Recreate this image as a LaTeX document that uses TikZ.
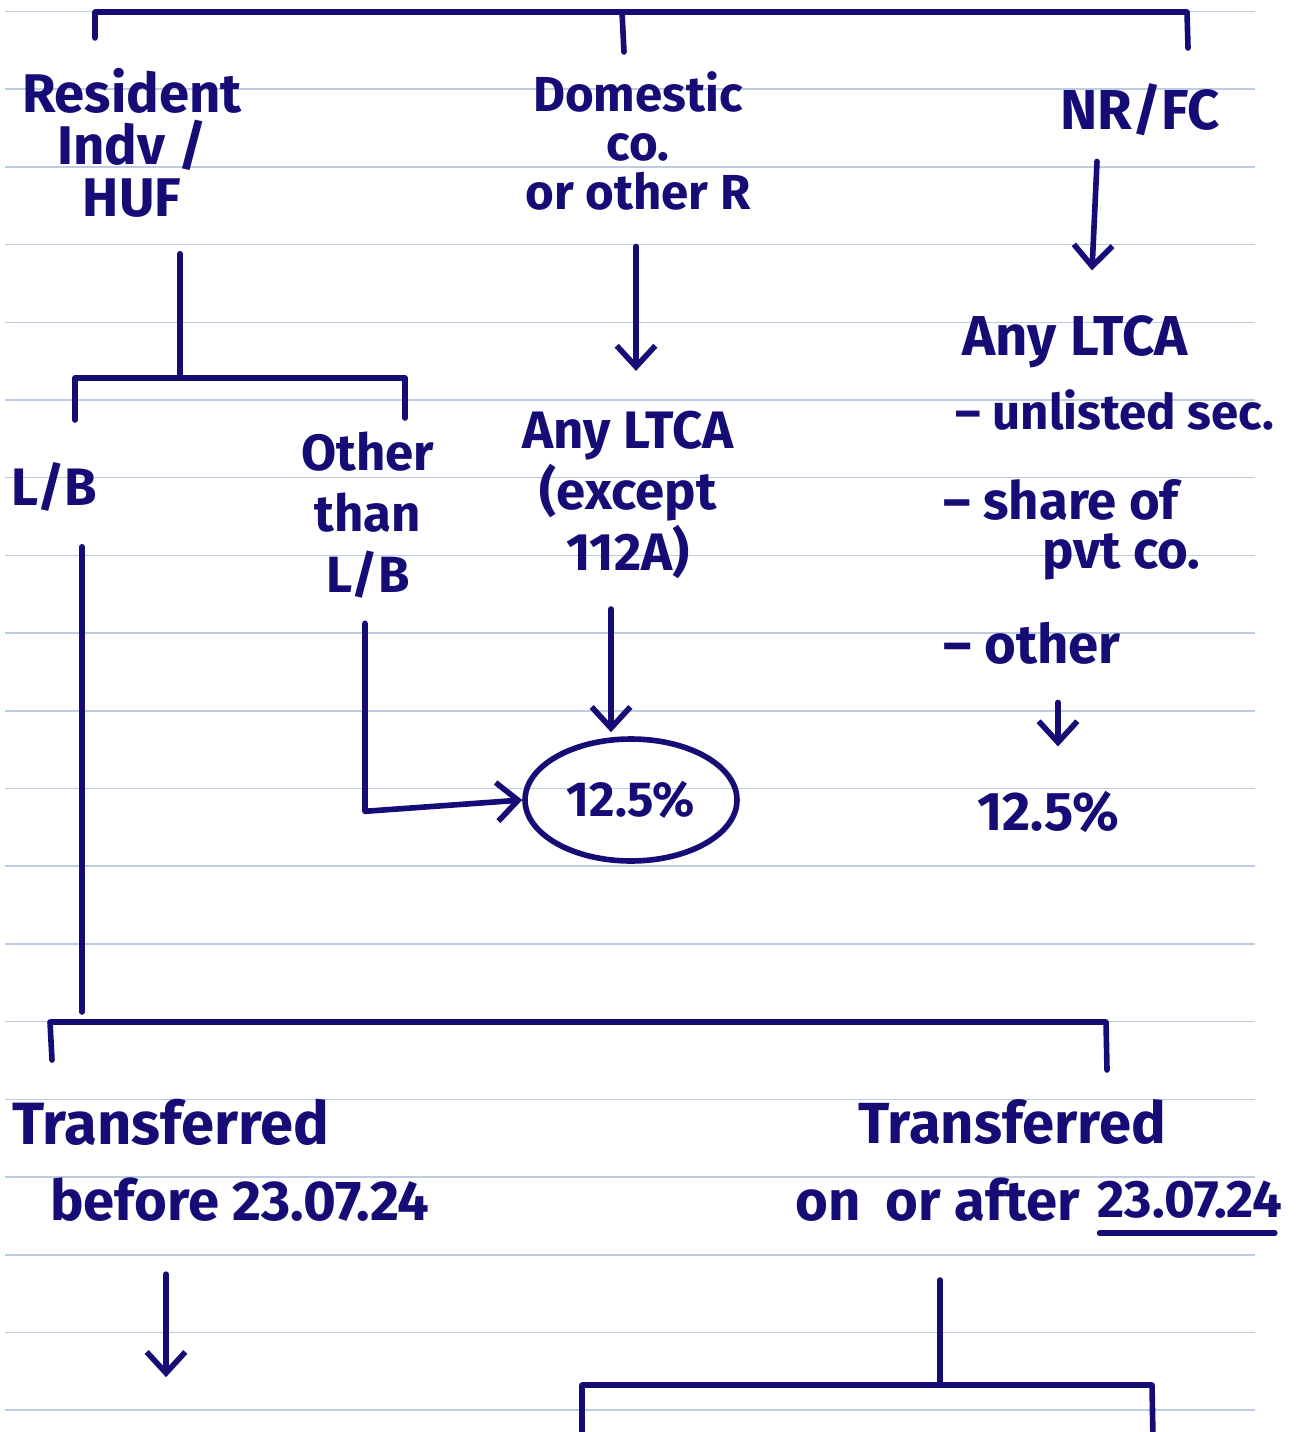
\documentclass[tikz,border=0pt]{standalone}
\usepackage{fontspec}
\setmainfont{Fira Sans}
\usetikzlibrary{arrows.meta,shapes.geometric,positioning,calc}
\definecolor{ink}{RGB}{22,12,118}
\definecolor{ruling}{RGB}{190,204,226}
\tikzset{
  note/.style={text=ink, font=\bfseries\fontsize{28}{30}\selectfont, inner sep=0pt, align=center},
  pen/.style={draw=ink, line width=3.2pt, line cap=round, line join=round},
}

\begin{document}
\begin{tikzpicture}[x=0.02cm, y=-0.02cm, >={Straight Barb[length=12pt,width=22pt]}]
  \useasboundingbox (0,0) rectangle (1306,1432);

  % Ruled paper
  \foreach \k in {0,...,18}
    \draw[ruling, line width=0.9pt] (5,{11.5+77.7*\k}) -- (1255,{11.5+77.7*\k});

  % Top row
  \node[note, font=\bfseries\fontsize{31}{29.5}\selectfont] (rind) at (132,143) {Resident\\Indv /\\HUF};
  \node[note, font=\bfseries\fontsize{28}{27.8}\selectfont] (dom) at (638,141) {Domestic\\co.\\or other R};
  \node[note, font=\bfseries\fontsize{32}{34}\selectfont] (nrfc) at (1140,110) {NR/FC};

  % Resident split
  \node[note, font=\bfseries\fontsize{30}{32}\selectfont] (lb) at (54,487) {L/B};
  \node[note, font=\bfseries\fontsize{29}{34.6}\selectfont] (oth) at (368,515) {Other\\than\\L/B};

  % Domestic co. column
  \node[note, font=\bfseries\fontsize{30}{34.6}\selectfont] (ltca) at (628,495) {Any LTCA\\(except\\112A)};
  \node[note, draw=ink, line width=3.2pt, ellipse, minimum width=4.24cm, minimum height=2.44cm] (rate) at (631,800) {12.5\%};

  % NR/FC column
  \node[note, anchor=west, font=\bfseries\fontsize{32}{34}\selectfont] (nrltca) at (962,342) {Any LTCA};
  \node[note, anchor=west] (unl) at (955,410) {-- unlisted sec.};
  \node[note, anchor=west, font=\bfseries\fontsize{30}{32}\selectfont] (share) at (943,500) {-- share of};
  \node[note, anchor=west, font=\bfseries\fontsize{30}{32}\selectfont] (pvt) at (1042,557) {pvt co.};
  \node[note, anchor=west, font=\bfseries\fontsize{31}{33}\selectfont] (nroth) at (943,643) {-- other};
  \node[note, font=\bfseries\fontsize{31}{33}\selectfont] (nrrate) at (1048,812) {12.5\%};

  % Transfer date
  \node[note, anchor=west, font=\bfseries\fontsize{34}{36}\selectfont] (tbef) at (12,1122) {Transferred};
  \node[note, anchor=west, font=\bfseries\fontsize{32}{34}\selectfont] (bef) at (50,1200) {before 23.07.24};
  \node[note, font=\bfseries\fontsize{33}{35}\selectfont] (taft) at (1012,1122) {Transferred};
  \node[note, anchor=west, font=\bfseries\fontsize{32}{34}\selectfont] (aft) at (795,1200) {on\hspace{0.45em}or after};
  \node[note, right=0.35cm of aft, font=\bfseries\fontsize{30}{32}\selectfont] (date) {23.07.24};

  % Top bracket
  \coordinate (topl) at (95,12);
  \coordinate (topm) at (622,12);
  \coordinate (topr) at (1187,12);
  \draw[pen] (95,38) -- (topl) -- (topr) -- (1188,48);
  \draw[pen] (topm) -- (624,52);

  % Resident -> L/B, other than L/B
  \coordinate (rsplit) at (180,378);
  \draw[pen] ($(rsplit |- rind.south)+(0,36)$) -- (rsplit);
  \draw[pen] (75,420) -- (75,378) -- (405,378) -- (405,418);

  % Domestic -> Any LTCA
  \draw[pen, ->] ($(dom.south)+(-2,36)$) -- ($(dom.south |- ltca.north)+(-2,-40)$);
  \draw[pen, ->] ($(ltca.south)+(-17,30)$) -- ($(ltca.south |- rate.north)+(-17,-4)$);
  \draw[pen, ->] ($(oth.south)+(-3,25)$) -- ++(0,188) -- (rate.west);

  % NR/FC -> Any LTCA
  \draw[pen, ->] ($(nrfc.south)+(-43,25)$) -- ($(nrfc.south |- nrltca.north)+(-48,-45)$);
  \draw[pen, ->] ($(nroth.south west)+(115,38)$) -- ++(0,44);

  % L/B -> transfer date
  \coordinate (bsplit) at (82,1022);
  \draw[pen] ($(lb.south)+(28,35)$) -- ($(bsplit)+(0,-10)$);
  \draw[pen] (52,1060) -- (50,1022) -- (1106,1022) -- (1107,1070);

  % After the date
  \draw[pen] ($(date.south west)+(2,14)$) -- ($(date.south east)+(-8,14)$);
  \draw[pen, ->] ($(bef.south west)+(116,52)$) -- ++(0,103);
  \coordinate (asplit) at (940,1385);
  \draw[pen] ($(asplit)+(0,-105)$) -- (asplit);
  \draw[pen] (582,1440) -- (582,1385) -- (1152,1385) -- (1153,1440);
\end{tikzpicture}
\end{document}
